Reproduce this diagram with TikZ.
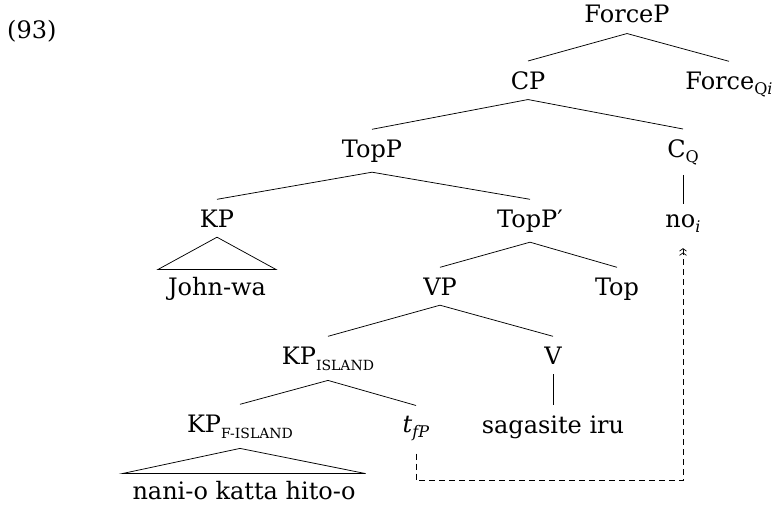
\documentclass[tikz,border=0pt]{standalone}
\usepackage{fontspec}
\setmainfont{DejaVu Serif}
\usepackage{tikz}
\usetikzlibrary{
  arrows.meta,
  calc,
}
\newcommand{\catfont}{\fontsize{24}{28}\selectfont}
\newcommand{\scsub}[1]{\raisebox{-6pt}{\fontsize{14}{14}\selectfont #1}}
\newcommand{\qsub}[1]{\raisebox{-5pt}{\fontsize{16}{16}\selectfont #1}}
\tikzstyle{cat} = [
  anchor=base,
  inner xsep=0pt,
  inner ysep=10pt,
  font=\catfont,
]
\tikzstyle{roof} = [
  cat,
  inner xsep=10pt,
  inner ysep=7pt,
]
\tikzstyle{branch} = [
  line width=0.75pt,
  black,
]
\tikzstyle{movement} = [
  -{Straight Barb[length=2.5pt,width=7pt,sep=1pt]Straight Barb[length=2.5pt,width=7pt]},
  line width=0.7pt,
  dash pattern=on 6pt off 4pt,
  shorten >=6pt,
  shorten <=3pt,
]

\begin{document}
\begin{tikzpicture}[x=1pt,y=-1pt]

        \useasboundingbox (0,0) rectangle (773,506);

        \node[cat,anchor=base west] (exno) at (7,38) {(93)};

        \node[cat] (forcep)   at (627,23)  {ForceP};
        \node[cat] (cp)       at (528,89)  {CP};
        \node[cat] (force)    at (729,89)  {Force\qsub{Q\textit{i}}};
        \node[cat] (topp)     at (372,157) {TopP};
        \node[cat] (cq)       at (683,157) {C\qsub{Q}};
        \node[cat] (kp)       at (217,227) {KP};
        \node[cat] (toppbar)  at (530,227) {TopP′};
        \node[cat] (noi)      at (683,227) {no\textit{\qsub{i}}};
        \node[roof] (johnwa)  at (217,295) {John-wa};
        \node[cat] (vp)       at (440,295) {VP};
        \node[cat] (top)      at (617,295) {Top};
        \node[cat] (kpisl)    at (328,364) {KP\scsub{ISLAND}};
        \node[cat] (v)        at (553,364) {V};
        \node[cat] (kpfisl)   at (240,432) {KP\scsub{F-ISLAND}};
        \node[cat] (tfp)      at (416,432) {\textit{t}\qsub{\textit{fP}}};
        \node[cat] (sagasite) at (553,433) {sagasite iru};
        \node[roof] (nani)    at (244,499) {nani-o katta hito-o};

        \draw[branch] (forcep.south) -- (cp.north);
        \draw[branch] (forcep.south) -- (force.north);
        \draw[branch] (cp.south) -- (topp.north);
        \draw[branch] (cp.south) -- (cq.north);
        \draw[branch] (cq.south) -- (noi.north);
        \draw[branch] (topp.south) -- (kp.north);
        \draw[branch] (topp.south) -- (toppbar.north);
        \draw[branch] (kp.south) -- (johnwa.north west) -- (johnwa.north east) -- cycle;
        \draw[branch] (toppbar.south) -- (vp.north);
        \draw[branch] (toppbar.south) -- (top.north);
        \draw[branch] (vp.south) -- (kpisl.north);
        \draw[branch] (vp.south) -- (v.north);
        \draw[branch] (v.south) -- (sagasite.north);
        \draw[branch] (kpisl.south) -- (kpfisl.north);
        \draw[branch] (kpisl.south) -- (tfp.north);
        \draw[branch] (kpfisl.south) -- (nani.north west) -- (nani.north east) -- cycle;

        \coordinate (low) at ($(tfp.south)+(0,30)$);
        \draw[movement] (tfp.south) -- (low) -| (noi.south);

      \end{tikzpicture}
\end{document}
